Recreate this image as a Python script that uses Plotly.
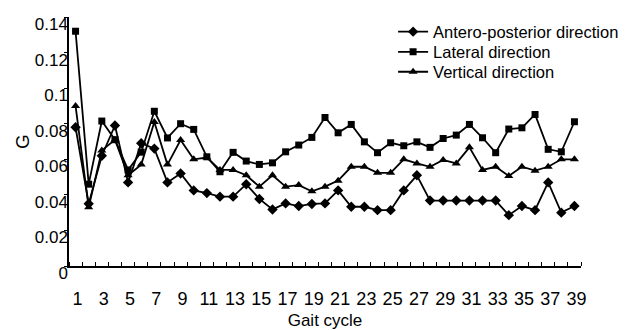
import plotly.graph_objects as go

# Gait cycle index
cycles = list(range(1, 40))

# Variability index G per gait cycle, by direction
antero_posterior = [0.078, 0.035, 0.062, 0.079, 0.047, 0.069, 0.066, 0.047, 0.052, 0.0425,
                    0.041, 0.039, 0.039, 0.046, 0.0377, 0.0318, 0.0352, 0.0337, 0.0349, 0.0352,
                    0.0425, 0.0333, 0.0333, 0.0314, 0.0314, 0.0425, 0.051, 0.0368, 0.0368, 0.0368,
                    0.0368, 0.0368, 0.0368, 0.0286, 0.0337, 0.0314, 0.047, 0.030, 0.0337]
lateral = [0.132, 0.046, 0.0815, 0.071, 0.054, 0.064, 0.087, 0.072, 0.080, 0.0768,
           0.0614, 0.053, 0.0639, 0.059, 0.0571, 0.058, 0.0642, 0.068, 0.0723, 0.0835,
           0.0749, 0.0796, 0.0698, 0.0637, 0.0693, 0.0676, 0.0698, 0.0667, 0.0717, 0.0736,
           0.0796, 0.0721, 0.0637, 0.077, 0.0777, 0.0852, 0.0656, 0.0642, 0.0811]
vertical = [0.090, 0.033, 0.065, 0.071, 0.051, 0.057, 0.081, 0.057, 0.0708, 0.060,
            0.061, 0.054, 0.054, 0.051, 0.0446, 0.051, 0.0446, 0.0455, 0.042, 0.0446,
            0.048, 0.0558, 0.0558, 0.0524, 0.0524, 0.060, 0.0577, 0.0558, 0.0596, 0.0577,
            0.0667, 0.054, 0.0558, 0.0506, 0.0558, 0.0536, 0.0558, 0.060, 0.060]

series_names = ["Antero-posterior direction", "Lateral direction", "Vertical direction"]
x_tick_vals = list(range(1, 40, 2))
x_tick_text = [str(v) for v in x_tick_vals]
y_tick_vals = [0, 0.02, 0.04, 0.06, 0.08, 0.1, 0.12, 0.14]
y_tick_text = ["0", "0.02", "0.04", "0.06", "0.08", "0.1", "0.12", "0.14"]

FONT = "Liberation Sans, Arial, sans-serif"

fig = go.Figure()
styles = [("diamond", 8), ("square", 7), ("triangle-up", 8)]
legend_ids = ["legend", "legend2", "legend3"]
for name, vals, (sym, size), lg in zip(series_names, [antero_posterior, lateral, vertical],
                                       styles, legend_ids):
    fig.add_trace(go.Scatter(
        x=cycles, y=vals, name=name, mode="lines+markers", legend=lg,
        line=dict(color="black", width=1.8),
        marker=dict(symbol=sym, size=size, color="black"),
    ))

# one compact legend box per series, stacked tightly at the upper right
legend_style = dict(x=0.633, xanchor="left", yanchor="middle",
                    bgcolor="rgba(0,0,0,0)", font=dict(size=16.5, family=FONT),
                    itemwidth=30)

fig.update_layout(
    width=636, height=330,
    margin=dict(l=69, r=55, t=17, b=64, autoexpand=False),
    paper_bgcolor="white", plot_bgcolor="white",
    font=dict(family=FONT, color="black", size=16),
    showlegend=True,
    legend=dict(y=0.940, **legend_style),
    legend2=dict(y=0.859, **legend_style),
    legend3=dict(y=0.779, **legend_style),
)

fig.update_xaxes(
    range=[0.5, 39.5], showgrid=False, zeroline=False, automargin=False,
    showline=True, linecolor="black", linewidth=2,
    tickmode="array", tickvals=x_tick_vals, ticktext=x_tick_text,
    ticks="", tickfont=dict(size=18, family=FONT),
    ticklabelstandoff=15, ticklabelshift=2,
    minor=dict(tick0=0.5, dtick=1, ticks="inside", ticklen=4, tickwidth=1, tickcolor="black", showgrid=False),
    title=dict(text="Gait cycle", font=dict(size=17, family=FONT), standoff=10),
)
fig.update_yaxes(
    range=[0, 0.14], showgrid=False, zeroline=False, automargin=False,
    showline=True, linecolor="black", linewidth=1.5,
    tickmode="array", tickvals=y_tick_vals, ticktext=y_tick_text,
    ticks="outside", ticklen=3, tickwidth=1, tickcolor="black",
    tickfont=dict(size=17, family=FONT), ticklabelshift=7, ticklabelstandoff=-7,
    title=dict(text="G", font=dict(size=19, family=FONT), standoff=0),
)

fig.write_html("out.html")
